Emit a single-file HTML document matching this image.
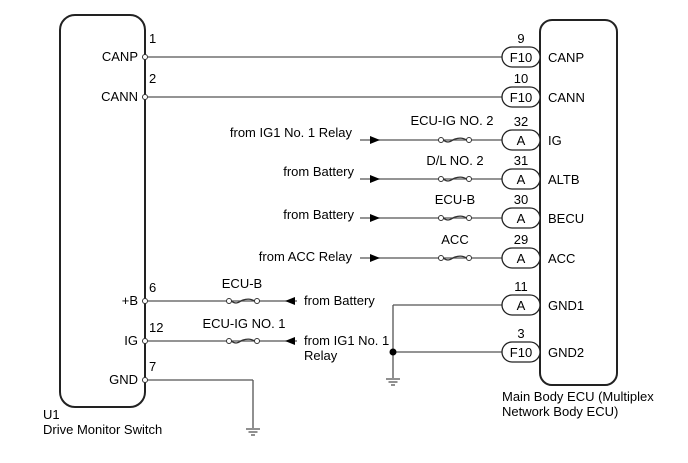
<!DOCTYPE html>
<html><head><meta charset="utf-8"><style>
html,body{margin:0;padding:0;background:#fff;}
svg{display:block;font-family:"Liberation Sans",Arial,sans-serif;font-size:13px;}
</style></head><body>
<svg width="688" height="463" viewBox="0 0 688 463" xmlns="http://www.w3.org/2000/svg">
<defs>
<g id="fuse"><circle cx="0" cy="0" r="2.5" fill="#fff" stroke="#333" stroke-width="1"/><path d="M2.5,0 C8,5 12,-1 14,-1 C17,-2 21,-3 25.5,0" fill="none" stroke="#333" stroke-width="1.3"/><circle cx="28" cy="0" r="2.5" fill="#fff" stroke="#333" stroke-width="1"/></g>
<g id="arr"><path d="M-10,-4 L0,0 L-10,4 Z" fill="#000"/></g>
<g id="gnd"><line x1="-7" y1="0" x2="7" y2="0" stroke="#555" stroke-width="1.3"/><line x1="-4.5" y1="3" x2="4.5" y2="3" stroke="#555" stroke-width="1.3"/><line x1="-2" y1="6" x2="2" y2="6" stroke="#555" stroke-width="1.3"/></g>
</defs>
<g stroke="#555" stroke-width="1.3" fill="none">
<rect x="60" y="15" width="85" height="392" rx="15" stroke="#222" stroke-width="2"/>
<rect x="540" y="20" width="77" height="365" rx="12" stroke="#222" stroke-width="2"/>
<line x1="148" y1="57" x2="502" y2="57"/>
<line x1="148" y1="97" x2="502" y2="97"/>
<line x1="360" y1="140" x2="502" y2="140"/>
<line x1="360" y1="179" x2="502" y2="179"/>
<line x1="360" y1="218" x2="502" y2="218"/>
<line x1="360" y1="258" x2="502" y2="258"/>
<line x1="393" y1="305" x2="502" y2="305"/>
<line x1="393" y1="305" x2="393" y2="378"/>
<line x1="393" y1="352" x2="502" y2="352"/>
<line x1="148" y1="301" x2="297" y2="301"/>
<line x1="148" y1="341" x2="297" y2="341"/>
<line x1="148" y1="380" x2="253" y2="380"/>
<line x1="253" y1="380" x2="253" y2="428"/>
</g>
<g fill="#fff" stroke="#333" stroke-width="1">
<circle cx="145" cy="57" r="2.5"/><circle cx="145" cy="97" r="2.5"/>
<circle cx="145" cy="301" r="2.5"/><circle cx="145" cy="341" r="2.5"/><circle cx="145" cy="380" r="2.5"/>
</g>
<circle cx="393" cy="352" r="3.5" fill="#000"/>
<use href="#fuse" x="441" y="140"/><use href="#fuse" x="441" y="179"/>
<use href="#fuse" x="441" y="218"/><use href="#fuse" x="441" y="258"/>
<use href="#fuse" x="229" y="301"/><use href="#fuse" x="229" y="341"/>
<use href="#arr" x="380" y="140"/><use href="#arr" x="380" y="179"/>
<use href="#arr" x="380" y="218"/><use href="#arr" x="380" y="258"/>
<g transform="translate(285,301) scale(-1,1)"><use href="#arr"/></g>
<g transform="translate(285,341) scale(-1,1)"><use href="#arr"/></g>
<use href="#gnd" x="393" y="379"/><use href="#gnd" x="253" y="429"/>
<g fill="#fff" stroke="#222" stroke-width="1.3">
<rect x="502" y="47" width="38" height="20" rx="10"/>
<rect x="502" y="87" width="38" height="20" rx="10"/>
<rect x="502" y="130" width="38" height="20" rx="10"/>
<rect x="502" y="169" width="38" height="20" rx="10"/>
<rect x="502" y="208" width="38" height="20" rx="10"/>
<rect x="502" y="248" width="38" height="20" rx="10"/>
<rect x="502" y="295" width="38" height="20" rx="10"/>
<rect x="502" y="342" width="38" height="20" rx="10"/>
</g>
<g fill="#000" text-anchor="middle">
<text x="521" y="62">F10</text><text x="521" y="102">F10</text>
<text x="521" y="145">A</text><text x="521" y="184">A</text>
<text x="521" y="223">A</text><text x="521" y="263">A</text>
<text x="521" y="310">A</text><text x="521" y="357">F10</text>
<text x="521" y="43">9</text><text x="521" y="83">10</text>
<text x="521" y="126">32</text><text x="521" y="165">31</text>
<text x="521" y="204">30</text><text x="521" y="244">29</text>
<text x="521" y="291">11</text><text x="521" y="338">3</text>
<text x="452" y="125">ECU-IG NO. 2</text>
<text x="455" y="165">D/L NO. 2</text>
<text x="455" y="204">ECU-B</text>
<text x="455" y="244">ACC</text>
<text x="242" y="288">ECU-B</text>
<text x="244" y="328">ECU-IG NO. 1</text>
</g>
<g fill="#000" text-anchor="end">
<text x="352" y="137">from IG1 No. 1 Relay</text>
<text x="354" y="176">from Battery</text>
<text x="354" y="219">from Battery</text>
<text x="352" y="261">from ACC Relay</text>
<text x="138" y="61">CANP</text>
<text x="138" y="101">CANN</text>
<text x="138" y="305">+B</text>
<text x="138" y="345">IG</text>
<text x="138" y="384">GND</text>
</g>
<g fill="#000">
<text x="149" y="43">1</text><text x="149" y="83">2</text>
<text x="149" y="292">6</text><text x="149" y="332">12</text><text x="149" y="371">7</text>
<text x="304" y="305">from Battery</text>
<text x="304" y="345">from IG1 No. 1</text>
<text x="304" y="360">Relay</text>
<text x="548" y="62">CANP</text><text x="548" y="102">CANN</text>
<text x="548" y="145">IG</text><text x="548" y="184">ALTB</text>
<text x="548" y="223">BECU</text><text x="548" y="263">ACC</text>
<text x="548" y="310">GND1</text><text x="548" y="357">GND2</text>
<text x="43" y="419">U1</text>
<text x="43" y="434">Drive Monitor Switch</text>
<text x="502" y="401">Main Body ECU (Multiplex</text>
<text x="502" y="416">Network Body ECU)</text>
</g>
</svg>
</body></html>
